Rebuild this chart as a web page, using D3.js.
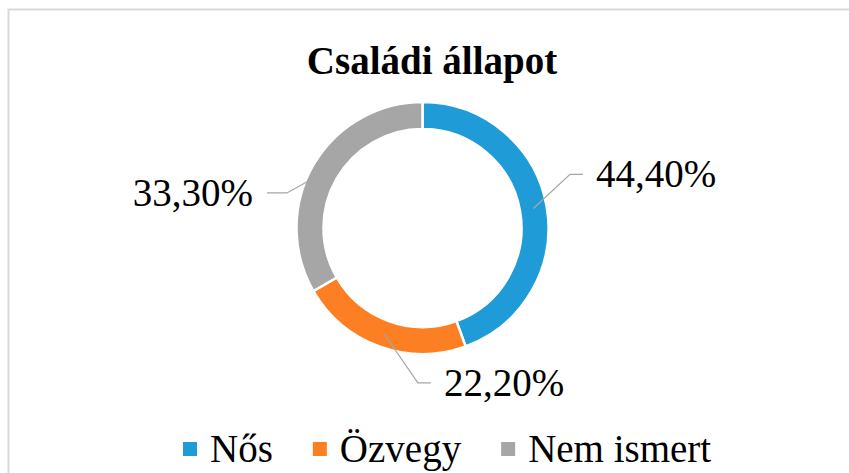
<!DOCTYPE html>
<html lang="hu">
<head>
<meta charset="UTF-8">
<title>Családi állapot</title>
<script src="https://d3js.org/d3.v7.min.js"></script>
<style>
  body { margin: 0; background: #fff; }
  svg { display: block; }
  text { font-family: "Liberation Serif", "Times New Roman", serif; fill: #000; }
</style>
</head>
<body>
<script>
  // chart data
  const categories = ["Nős", "Özvegy", "Nem ismert"]
  const values = [44.4, 22.2, 33.3]
  const valueLabels = ["44,40%", "22,20%", "33,30%"]
  const colors = ["#1f9cd8", "#fd7f24", "#a6a6a6"]

  const width = 849
  const height = 473
  const cx = 422.5, cy = 228
  const outerR = 126, innerR = 99

  const svg = d3.select("body").append("svg")
      .attr("width", width)
      .attr("height", height)

  // chart frame (runs off the right/bottom of the picture)
  svg.append("rect")
      .attr("x", 8.5).attr("y", 9.5)
      .attr("width", 900).attr("height", 520)
      .attr("fill", "none")
      .attr("stroke", "#d9d9d9")
      .attr("stroke-width", 2)

  svg.append("text")
      .attr("x", 432).attr("y", 74)
      .attr("text-anchor", "middle")
      .attr("font-weight", "bold")
      .attr("font-size", 39)
      .text("Családi állapot")

  const pie = d3.pie().sort(null).value(d => d)
  const arcs = pie(values)
  const arc = d3.arc().innerRadius(innerR).outerRadius(outerR)

  const g = svg.append("g").attr("transform", `translate(${cx},${cy})`)

  g.selectAll("path")
    .data(arcs)
    .enter()
    .append("path")
      .attr("d", arc)
      .attr("fill", (d, i) => colors[i])
      .attr("stroke", "#fff")
      .attr("stroke-width", 2.5)

  // leader elbows (angle in degrees from top, radius) - Excel-ish placement
  const elbows = [[70, 157], [181.7, 155], [284.5, 140]]
  const polar = (a, r) => [r * Math.sin(a * Math.PI / 180), -r * Math.cos(a * Math.PI / 180)]

  arcs.forEach((d, i) => {
    const c = arc.centroid(d)
    const e = polar(elbows[i][0], elbows[i][1])
    const right = e[0] > -20
    const tail = [e[0] + (right ? 13 : -20), e[1]]
    g.append("polyline")
        .attr("points", [c, e, tail].map(p => p.join(",")).join(" "))
        .attr("fill", "none")
        .attr("stroke", "#a6a6a6")
        .attr("stroke-width", 1.2)
    g.append("text")
        .attr("x", tail[0] + (right ? 13 : -14))
        .attr("y", tail[1] + 13)
        .attr("text-anchor", right ? "start" : "end")
        .attr("font-size", 39)
        .text(valueLabels[i])
  })

  // legend
  const legend = svg.append("g")
  let lx = 183
  categories.forEach((c, i) => {
    legend.append("rect")
        .attr("x", lx).attr("y", 442)
        .attr("width", 14).attr("height", 14)
        .attr("fill", colors[i])
    const t = legend.append("text")
        .attr("x", lx + 27).attr("y", 462)
        .attr("font-size", 39)
        .text(c)
    lx += 27 + t.node().getComputedTextLength() + 40
  })
</script>
</body>
</html>
